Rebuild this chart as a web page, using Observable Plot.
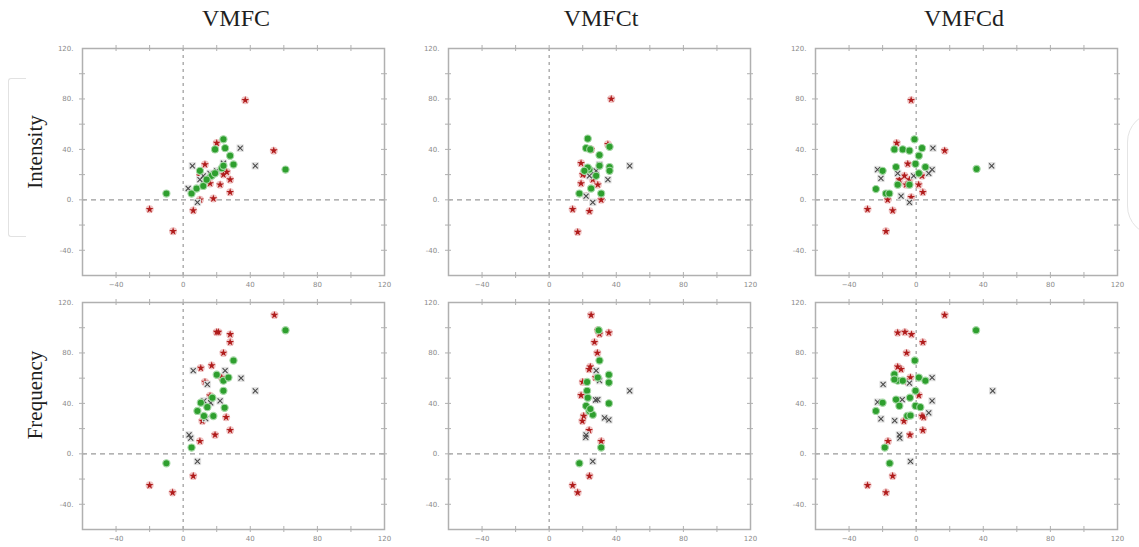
<!DOCTYPE html>
<html>
<head>
<meta charset="utf-8">
<script src="https://cdn.jsdelivr.net/npm/d3@7"></script>
<script src="https://cdn.jsdelivr.net/npm/@observablehq/plot@0.6"></script>
<style>
  html, body { margin: 0; padding: 0; background: #fff; }
  #root { position: relative; width: 1139px; height: 547px; overflow: hidden; background: #fff; }
  .title { position: absolute; font-family: "Liberation Serif", "DejaVu Serif", serif; font-size: 24px; color: #1e1e1e; transform: translateX(-50%); white-space: nowrap; }
  .rowlab { position: absolute; font-family: "Liberation Serif", "DejaVu Serif", serif; font-size: 21px; color: #1e1e1e; transform: translate(-50%, -50%) rotate(-90deg); white-space: nowrap; }
  .panel { position: absolute; }
</style>
</head>
<body>
<div id="root"></div>
<script>
// ---- Data (x = VMFC variant value, y = Intensity / Frequency value) ----
const columnTitles = ["VMFC", "VMFCt", "VMFCd"];
const rowTitles = ["Intensity", "Frequency"];
const labelTicks = [-40, 0, 40, 80, 120];
const minorTicks = [-40, -20, 0, 20, 40, 60, 80, 100];

// Intensity vs VMFC
const vmfcIntRed = [[37,79],[54,39],[-20,-7.5],[-6,-25],[6,-8.5],[10,0],[18,1],[28,6],[20,45],[13,28],[22,12],[24,20],[28,16],[16,13],[10,19],[26,22]];
const vmfcIntGreen = [[-10,5],[24,48],[19,40],[25,41],[28,35],[30,28],[61,24],[23,25],[24,27],[5,5],[8,9],[12,11],[10,23],[17,19],[19,21],[14,16]];
const vmfcIntGray = [[5.5,27],[34,41],[43,27],[3,9],[8.5,-2],[12,19],[16,21],[20,23],[10,16],[24,29]];
// Intensity vs VMFCt
const vmfctIntRed = [[37,80],[14,-7.5],[17,-25.6],[24,-9],[31,0],[22,3],[19,13],[19,29],[35,44],[25,40],[26,16],[22,20],[29,12],[20,20]];
const vmfctIntGreen = [[23,48.5],[22,41],[24.5,40],[30,35.5],[36,42],[36,26],[36,23],[18,5],[31,5],[25,9],[24,24],[23,25.6],[21,23],[28,19],[30,27]];
const vmfctIntGray = [[48,27],[26,-2],[35,16],[30,28],[28,23],[24,19],[27,20],[22,3]];
// Intensity vs VMFCd
const vmfcdIntRed = [[-3,79],[17,39],[-11.6,45],[-29,-7.5],[-14,-8.5],[-18,-25],[-17,0],[-3,2],[4,6],[-5,28.5],[-10,16],[-6,12],[1.5,12],[3.5,19],[-7,19],[-4,16]];
const vmfcdIntGreen = [[-1,48],[-13,40],[-8,40],[-4,39],[3.5,41],[1.6,35],[36,24.5],[-24,8.5],[-18,5],[-16,5],[-20,23],[-12,26],[-0.4,28.5],[5.5,26],[1.6,21],[-4,12],[-11,12]];
const vmfcdIntGray = [[45,27],[10,41],[-23,24],[-21,17],[-9,3],[-4,-2],[9.5,24],[7.5,21],[-11,21],[-1.5,19]];
// Frequency vs VMFC
const vmfcFreqRed = [[54.4,110],[21,96.5],[20,96.5],[28,94.7],[28,88.5],[24,80],[10.5,68],[17,70],[13,57],[23,60.5],[16,46],[19,15],[10,10],[28,18.7],[25.6,29],[11.4,26],[6,-17.6],[-20,-25],[-6.3,-30.7]];
const vmfcFreqGreen = [[61,98],[30,74],[20,62.7],[24,58],[27,60.5],[24,50],[17.4,44.5],[10.5,40.5],[8.5,34],[12.4,30],[18,30],[24.7,36.5],[14.4,37],[5,5],[-10,-7.5]];
const vmfcFreqGray = [[6,66],[25,66],[34.5,60],[43,50],[14.4,55],[3.5,15],[4.5,12.5],[8.5,-6],[12.4,42],[22,42],[13.4,28],[16.4,40.5]];
// Frequency vs VMFCt
const vmfctFreqRed = [[25,110],[29,98],[30,95],[35.6,96],[27,88.5],[28.7,80],[24.5,69],[23.8,67],[20,57],[27.7,60.5],[19,46.4],[20.6,30],[19.8,26],[23.8,18.7],[31,10],[24,-17.6],[14,-25],[17,-30.7]];
const vmfctFreqGreen = [[29.5,98],[30,74],[35.6,62.7],[35.6,56.5],[35.6,40],[29,60.5],[22.6,57],[22.6,50],[23,44.5],[22,38],[24,34],[26,31],[31,5],[18,-7.5],[24.5,35.5]];
const vmfctFreqGray = [[48,50],[28,66],[30,58],[27.7,42.7],[33,28.5],[35.6,27],[22,15],[21.8,13],[26,-6],[29,43]];
// Frequency vs VMFCd
const vmfcdFreqRed = [[17,110],[-11,96],[-6.7,96.5],[-2.8,94.7],[4,88.5],[-5.7,80],[-11,69],[-9,67],[-3.4,60.5],[-5,57],[1.6,46.4],[3.5,30],[4.5,29],[4,18.7],[-3.7,15],[-7.3,26],[-16.8,10],[-14,-17.6],[-29,-25],[-18,-30.7]];
const vmfcdFreqGreen = [[35.7,98],[-0.8,74],[-13,63],[-11,58],[-8,58],[1.6,60.5],[5.5,58],[-0.4,50],[-3.7,44.5],[-12,43],[-10,38],[-20,40.5],[-24,34],[-5.3,30],[-3.4,30.4],[-0.4,38],[2.5,37],[-18.7,5],[-15.8,-7.5],[-13,59]];
const vmfcdFreqGray = [[45.6,50],[9.5,60.5],[-19.7,55],[-23,41],[-21,27.7],[-12.8,26.4],[-10,15],[-9.7,12.5],[-3.4,-6],[9.5,42],[7.5,32.5],[-8.3,43],[-4,56]];

// ---- Layout ----
const root = document.getElementById("root");
const colLeft = [82, 448, 815];
const rowTop = [48, 302];
const innerW = 302, innerH = 227;
const mL = 40, mR = 10, mT = 10, mB = 22;

const panels = [
  [ [vmfcIntRed, vmfcIntGreen, vmfcIntGray], [vmfctIntRed, vmfctIntGreen, vmfctIntGray], [vmfcdIntRed, vmfcdIntGreen, vmfcdIntGray] ],
  [ [vmfcFreqRed, vmfcFreqGreen, vmfcFreqGray], [vmfctFreqRed, vmfctFreqGreen, vmfctFreqGray], [vmfcdFreqRed, vmfcdFreqGreen, vmfcdFreqGray] ]
];

const px = d => d[0], py = d => d[1];
const gridC = "#b0b0b0";

for (let r = 0; r < 2; r++) {
  for (let c = 0; c < 3; c++) {
    const [red, green, gray] = panels[r][c];
    const chart = Plot.plot({
      width: innerW + mL + mR,
      height: innerH + mT + mB,
      marginLeft: mL, marginRight: mR, marginTop: mT, marginBottom: mB,
      x: {domain: [-60, 120]},
      y: {domain: [-60, 120]},
      style: {background: "transparent", overflow: "visible", fontFamily: "'DejaVu Sans', sans-serif"},
      marks: [
        Plot.ruleY([0], {stroke: "#9a9a9a", strokeWidth: 1.2, strokeDasharray: "5,4"}),
        Plot.ruleX([0], {stroke: "#9a9a9a", strokeWidth: 1.2, strokeDasharray: "3,4"}),
        Plot.frame({stroke: gridC, strokeWidth: 1.5}),
        // tick marks on all four sides (crossing the frame)
        Plot.tickX(minorTicks, {x: d => d, insetTop: innerH - 3, insetBottom: -3, stroke: gridC}),
        Plot.tickX(minorTicks, {x: d => d, insetBottom: innerH - 3, insetTop: -3, stroke: gridC}),
        Plot.tickY(minorTicks, {y: d => d, insetRight: innerW - 3, insetLeft: -3, stroke: gridC}),
        Plot.tickY(minorTicks, {y: d => d, insetLeft: innerW - 3, insetRight: -3, stroke: gridC}),
        Plot.axisX(labelTicks, {anchor: "bottom", tickSize: 0, tickPadding: 7, fontSize: 7, color: "#8a8a8a", label: null}),
        Plot.axisY(labelTicks, {anchor: "left", tickSize: 0, tickPadding: 9, fontSize: 7, color: "#8a8a8a", label: null, tickFormat: d => d + "."}),
        // red series
        Plot.dot(red, {x: px, y: py, r: 4, fill: "#f0c6c6"}),
        Plot.dot(red, {x: px, y: py, symbol: "star", r: 2.5, fill: "#b01c1c"}),
        // gray series
        Plot.dot(gray, {x: px, y: py, symbol: "square", r: 4.2, fill: "#e2e2e2"}),
        Plot.dot(gray, {x: px, y: py, symbol: "times", r: 2.4, stroke: "#4a4a4a", strokeWidth: 1.1}),
        // green series
        Plot.dot(green, {x: px, y: py, r: 3.6, fill: "#2e9f2e", stroke: "#a5d8a5", strokeWidth: 1.1})
      ]
    });
    chart.classList.add("panel");
    chart.style.left = (colLeft[c] - mL) + "px";
    chart.style.top = (rowTop[r] - mT) + "px";
    root.appendChild(chart);
  }
}

// titles
const titleX = [236, 601, 964];
columnTitles.forEach((t, i) => {
  const d = document.createElement("div");
  d.className = "title";
  d.textContent = t;
  d.style.left = titleX[i] + "px";
  d.style.top = "5px";
  root.appendChild(d);
});
const rowY = [152, 395];
rowTitles.forEach((t, i) => {
  const d = document.createElement("div");
  d.className = "rowlab";
  d.textContent = t;
  d.style.left = "35px";
  d.style.top = rowY[i] + "px";
  root.appendChild(d);
});

// faint decorative bracket / rounded box seen in the reference
const br = document.createElement("div");
Object.assign(br.style, {position: "absolute", left: "8px", top: "78px", width: "17px", height: "157px",
  borderLeft: "1.5px solid #e2e2e2", borderTop: "1.5px solid #e2e2e2", borderBottom: "1.5px solid #e2e2e2", borderRadius: "3px 0 0 3px"});
root.appendChild(br);
const rb = document.createElement("div");
Object.assign(rb.style, {position: "absolute", left: "1127px", top: "112px", width: "80px", height: "122px",
  border: "1.5px solid #e4e4e4", borderRadius: "30px"});
root.appendChild(rb);
</script>
</body>
</html>
